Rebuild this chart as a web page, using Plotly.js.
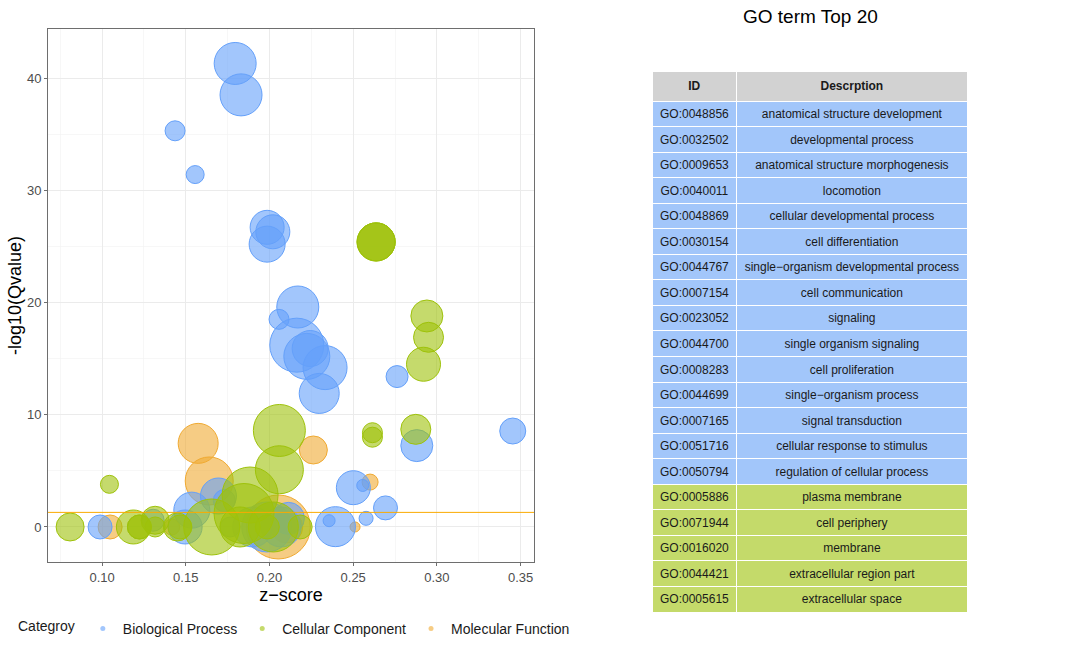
<!DOCTYPE html>
<html>
<head>
<meta charset="utf-8">
<script src="https://cdn.plot.ly/plotly-3.0.1.min.js"></script>
<style>html,body{margin:0;padding:0;background:#fff;}</style>
</head>
<body>
<div id="chart" style="width:1080px;height:648px;"></div>
<script>
// ---------- Data ----------
// Biological Process
const bpZ    = [0.1795,0.183,0.1436,0.1556,0.1986,0.202,0.1986,0.2169,0.2057,0.2163,0.2243,0.2223,0.2332,0.2297,0.2762,0.3453,0.288,0.2501,0.2557,0.2693,0.2577,0.2394,0.2356,0.0988,0.1496,0.1536,0.1695,0.173,0.1765,0.1984,0.2113,0.190,0.1305,0.207];
const bpQ    = [41.3,38.5,35.3,31.4,26.7,26.3,25.2,19.6,18.5,16.2,15.9,15.2,14.2,11.9,13.4,8.55,7.25,3.5,3.7,1.7,0.77,0.03,0.56,0,0,1.5,2.76,2.35,0,0,0.77,0,0.6,0];
const bpSize = [42,42,20,18,34,34,36,42,20,54,36,46,44,40,22,26,32,34,12,24,14,40,12,24,34,36,36,22,20,50,32,40,22,40];
// Cellular Component
const ccZ    = [0.2637,0.2637,0.2637,0.294,0.295,0.292,0.2874,0.2615,0.2615,0.2059,0.2059,0.1044,0.0809,0.1187,0.1223,0.1223,0.1317,0.1317,0.145,0.1465,0.1655,0.1884,0.1848,0.1824,0.2023,0.1987,0.2183];
const ccQ    = [25.4,25.4,25.4,18.8,16.9,14.5,8.7,8.4,8.0,8.6,5.1,3.8,0,0,0,0,0.6,0,0,0,0,2.85,1.2,0,0,0,0];
const ccSize = [38,38,38,32,30,34,30,20,20,52,48,18,28,34,24,24,28,20,28,24,56,56,60,40,50,24,24];
// Molecular Function
const mfZ    = [0.1574,0.2262,0.164,0.2601,0.2511,0.1048,0.1416,0.2053,0.2103];
const mfQ    = [7.45,6.86,4.1,4.0,0,0,0,0,0];
const mfSize = [40,28,48,16,10,24,16,64,32];

const categoryNames = ['Biological Process','Cellular Component','Molecular Function'];
const qCutoff = -Math.log10(0.05);

// Table
const goIds = ['GO:0048856','GO:0032502','GO:0009653','GO:0040011','GO:0048869','GO:0030154','GO:0044767','GO:0007154','GO:0023052','GO:0044700','GO:0008283','GO:0044699','GO:0007165','GO:0051716','GO:0050794','GO:0005886','GO:0071944','GO:0016020','GO:0044421','GO:0005615'];
const goDesc = ['anatomical structure development','developmental process','anatomical structure morphogenesis','locomotion','cellular developmental process','cell differentiation','single\u2212organism developmental process','cell communication','signaling','single organism signaling','cell proliferation','single\u2212organism process','signal transduction','cellular response to stimulus','regulation of cellular process','plasma membrane','cell periphery','membrane','extracellular region part','extracellular space'];
const goCat = ['BP','BP','BP','BP','BP','BP','BP','BP','BP','BP','BP','BP','BP','BP','BP','CC','CC','CC','CC','CC'];

// ---------- Styling ----------
const FONT = 'Liberation Sans, Arial, Helvetica, sans-serif';
const col = {
  BP: {line:'rgb(100,160,250)', fill:'rgba(100,160,250,0.6)', table:'rgb(162,198,250)'},
  CC: {line:'rgb(158,194,10)',  fill:'rgba(158,194,10,0.6)',  table:'rgb(196,218,106)'},
  MF: {line:'rgb(240,170,50)',  fill:'rgba(240,170,50,0.6)',  table:'rgb(246,204,132)'}
};

function bubble(x, y, s, c) {
  return {
    type:'scatter', mode:'markers', x:x, y:y, showlegend:false, hoverinfo:'skip',
    marker:{size:s, sizemode:'diameter', sizeref:1, opacity:1, color:c.fill, line:{color:c.line, width:1}},
    xaxis:'x', yaxis:'y'
  };
}
function legendItem(name, c) {
  return {type:'scatter', mode:'markers', x:[null], y:[null], name:name, showlegend:true,
    marker:{size:5, opacity:1, color:c.fill, line:{width:0}}};
}

const rowColors = goCat.map(k => col[k].table);
// keep each description on one line (non-breaking spaces)
const goDescCell = goDesc.map(s => s.replace(/ /g, '\u00a0'));

const traces = [
  bubble(mfZ, mfQ, mfSize, col.MF),
  bubble(bpZ, bpQ, bpSize, col.BP),
  bubble(ccZ, ccQ, ccSize, col.CC),
  legendItem(categoryNames[0], col.BP),
  legendItem(categoryNames[1], col.CC),
  legendItem(categoryNames[2], col.MF),
  {
    type:'table',
    domain:{x:[652/1080, 968/1080], y:[0.03, 1-71/648]},
    columnwidth:[85,231],
    header:{values:[['<b>ID</b>'],['<b>Descrption</b>']], align:'center', height:25,
      fill:{color:'rgb(210,210,210)'}, line:{color:'white', width:1},
      font:{family:FONT, size:12, color:'#1a1a1a'}},
    cells:{values:[goIds, goDescCell], align:'center', height:25.55,
      fill:{color:[rowColors, rowColors]}, line:{color:'white', width:1},
      font:{family:FONT, size:12, color:'#1a1a1a'}}
  }
];

const axisCommon = {
  showgrid:true, gridcolor:'#ebebeb', gridwidth:1, zeroline:false,
  showline:true, mirror:true, linecolor:'#6e6e6e', linewidth:1,
  ticks:'outside', ticklen:3, tickcolor:'#6e6e6e', tickwidth:1,
  tickfont:{family:FONT, size:13, color:'#4d4d4d'}
};

const layout = {
  width:1080, height:648, margin:{l:0, r:0, t:0, b:0},
  paper_bgcolor:'white', plot_bgcolor:'white', hovermode:false,
  font:{family:FONT},
  xaxis:Object.assign({}, axisCommon, {
    domain:[48/1080, 534/1080], range:[0.0677, 0.358], tick0:0.1, dtick:0.05, tickformat:'.2f',
    minor:{tick0:0.075, dtick:0.05, showgrid:true, gridcolor:'#f2f2f2', gridwidth:0.6, ticks:''},
    title:{text:'z\u2212score', font:{family:FONT, size:18, color:'#000'}, standoff:2}
  }),
  yaxis:Object.assign({}, axisCommon, {
    domain:[1-562/648, 1-29/648], range:[-3.12, 44.37], tick0:0, dtick:10,
    minor:{tick0:5, dtick:10, showgrid:true, gridcolor:'#f2f2f2', gridwidth:0.6, ticks:''},
    title:{text:'-log10(Qvalue)', font:{family:FONT, size:18, color:'#000'}, standoff:0}
  }),
  shapes:[{type:'line', xref:'x domain', x0:0, x1:1, yref:'y', y0:qCutoff, y1:qCutoff,
    line:{color:'rgb(250,170,0)', width:1}, layer:'above'}],
  showlegend:true,
  legend:{orientation:'h', x:16/1080, xanchor:'left', y:1-629/648, yanchor:'middle',
    font:{family:FONT, size:14, color:'#1a1a1a'}, bgcolor:'rgba(0,0,0,0)',
    title:{text:'Categroy', side:'left', font:{family:FONT, size:14, color:'#1a1a1a'}},
    itemwidth:30, tracegroupgap:0},
  annotations:[{text:'GO term Top 20', xref:'paper', yref:'paper', x:810/1080, y:1-16/648,
    xanchor:'center', yanchor:'middle', showarrow:false,
    font:{family:FONT, size:19, color:'#000'}}]
};

Plotly.newPlot('chart', traces, layout, {displayModeBar:false, staticPlot:true});
</script>
</body>
</html>
